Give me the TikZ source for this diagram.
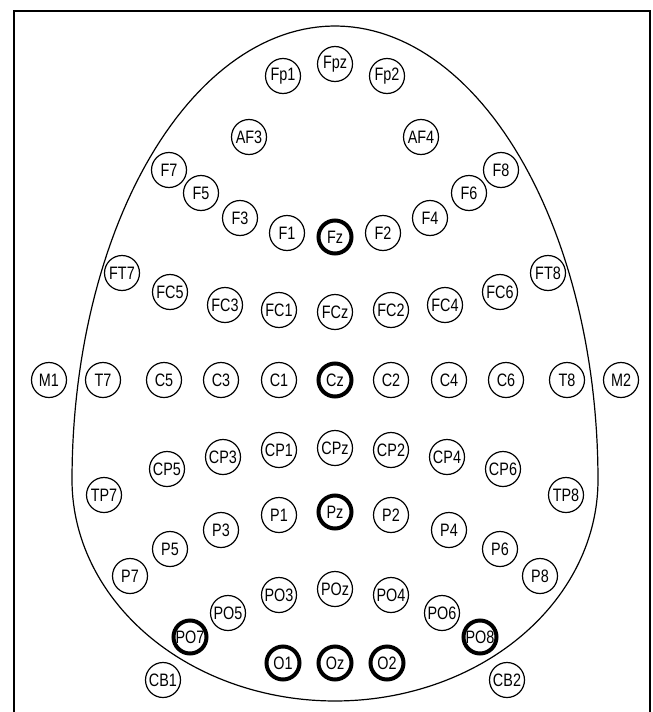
\documentclass[tikz,border=0pt]{standalone}
\usepackage{fontspec}
\setmainfont{Liberation Sans}[FakeStretch=0.8]
\begin{document}
\begin{tikzpicture}[x=1pt,y=-1pt,
  el/.style={circle,draw,line width=1.2pt,minimum size=35pt,inner sep=0pt,
    font=\fontsize{18}{18}\selectfont},
  elb/.style={el,line width=4pt,minimum size=33pt}]
\useasboundingbox (0,0) rectangle (653,712);
\draw[line width=2pt] (14,713) -- (14,10.7) -- (650,10.7) -- (650,713);
\draw[line width=1.2pt] plot[domain=0:180,samples=120] ({335+263*cos(\x)},{480-454*sin(\x)})
  -- plot[domain=180:360,samples=120] ({335+263*cos(\x)},{480-221*sin(\x)}) -- cycle;
% frontal pole
\node[el] (Fp1) at (283,76) {Fp1};
\node[el] (Fpz) at (335,64) {Fpz};
\node[el] (Fp2) at (387,76) {Fp2};
\node[el] (AF3) at (249,137) {AF3};
\node[el] (AF4) at (421,137) {AF4};
% frontal
\node[el] (F7) at (169,170) {F7};
\node[el] (F5) at (201,193) {F5};
\node[el] (F3) at (240,218) {F3};
\node[el] (F1) at (287,233) {F1};
\node[elb] (Fz) at (335,237) {Fz};
\node[el] (F2) at (383,233) {F2};
\node[el] (F4) at (430,218) {F4};
\node[el] (F6) at (469,193) {F6};
\node[el] (F8) at (501,170) {F8};
% fronto-central
\node[el] (FT7) at (122,273) {FT7};
\node[el] (FC5) at (170,292) {FC5};
\node[el] (FC3) at (225,305) {FC3};
\node[el] (FC1) at (279,310) {FC1};
\node[el] (FCz) at (335,312) {FCz};
\node[el] (FC2) at (391,310) {FC2};
\node[el] (FC4) at (445,305) {FC4};
\node[el] (FC6) at (500,292) {FC6};
\node[el] (FT8) at (548,273) {FT8};
% central
\node[el] (M1) at (49,380) {M1};
\node[el] (T7) at (103,380) {T7};
\node[el] (C5) at (164,380) {C5};
\node[el] (C3) at (221,380) {C3};
\node[el] (C1) at (279,380) {C1};
\node[elb] (Cz) at (335,380) {Cz};
\node[el] (C2) at (391,380) {C2};
\node[el] (C4) at (449,380) {C4};
\node[el] (C6) at (506,380) {C6};
\node[el] (T8) at (567,380) {T8};
\node[el] (M2) at (621,380) {M2};
% centro-parietal
\node[el] (CP5) at (167,469) {CP5};
\node[el] (CP3) at (223,457) {CP3};
\node[el] (CP1) at (279,450) {CP1};
\node[el] (CPz) at (335,448) {CPz};
\node[el] (CP2) at (391,450) {CP2};
\node[el] (CP4) at (447,457) {CP4};
\node[el] (CP6) at (503,469) {CP6};
\node[el] (TP7) at (104,495) {TP7};
\node[el] (TP8) at (566,495) {TP8};
% parietal
\node[el] (P7) at (130,576) {P7};
\node[el] (P5) at (170,549) {P5};
\node[el] (P3) at (221,530) {P3};
\node[el] (P1) at (279,515) {P1};
\node[elb] (Pz) at (335,512) {Pz};
\node[el] (P2) at (391,515) {P2};
\node[el] (P4) at (449,530) {P4};
\node[el] (P6) at (500,549) {P6};
\node[el] (P8) at (540,576) {P8};
% parieto-occipital
\node[elb] (PO7) at (190,637) {PO7};
\node[el] (PO5) at (228,613) {PO5};
\node[el] (PO3) at (279,595) {PO3};
\node[el] (POz) at (335,589) {POz};
\node[el] (PO4) at (391,595) {PO4};
\node[el] (PO6) at (442,613) {PO6};
\node[elb] (PO8) at (480,637) {PO8};
% occipital
\node[elb] (O1) at (283,663) {O1};
\node[elb] (Oz) at (335,663) {Oz};
\node[elb] (O2) at (387,663) {O2};
\node[el] (CB1) at (163,680) {CB1};
\node[el] (CB2) at (507,680) {CB2};
\end{tikzpicture}
\end{document}
